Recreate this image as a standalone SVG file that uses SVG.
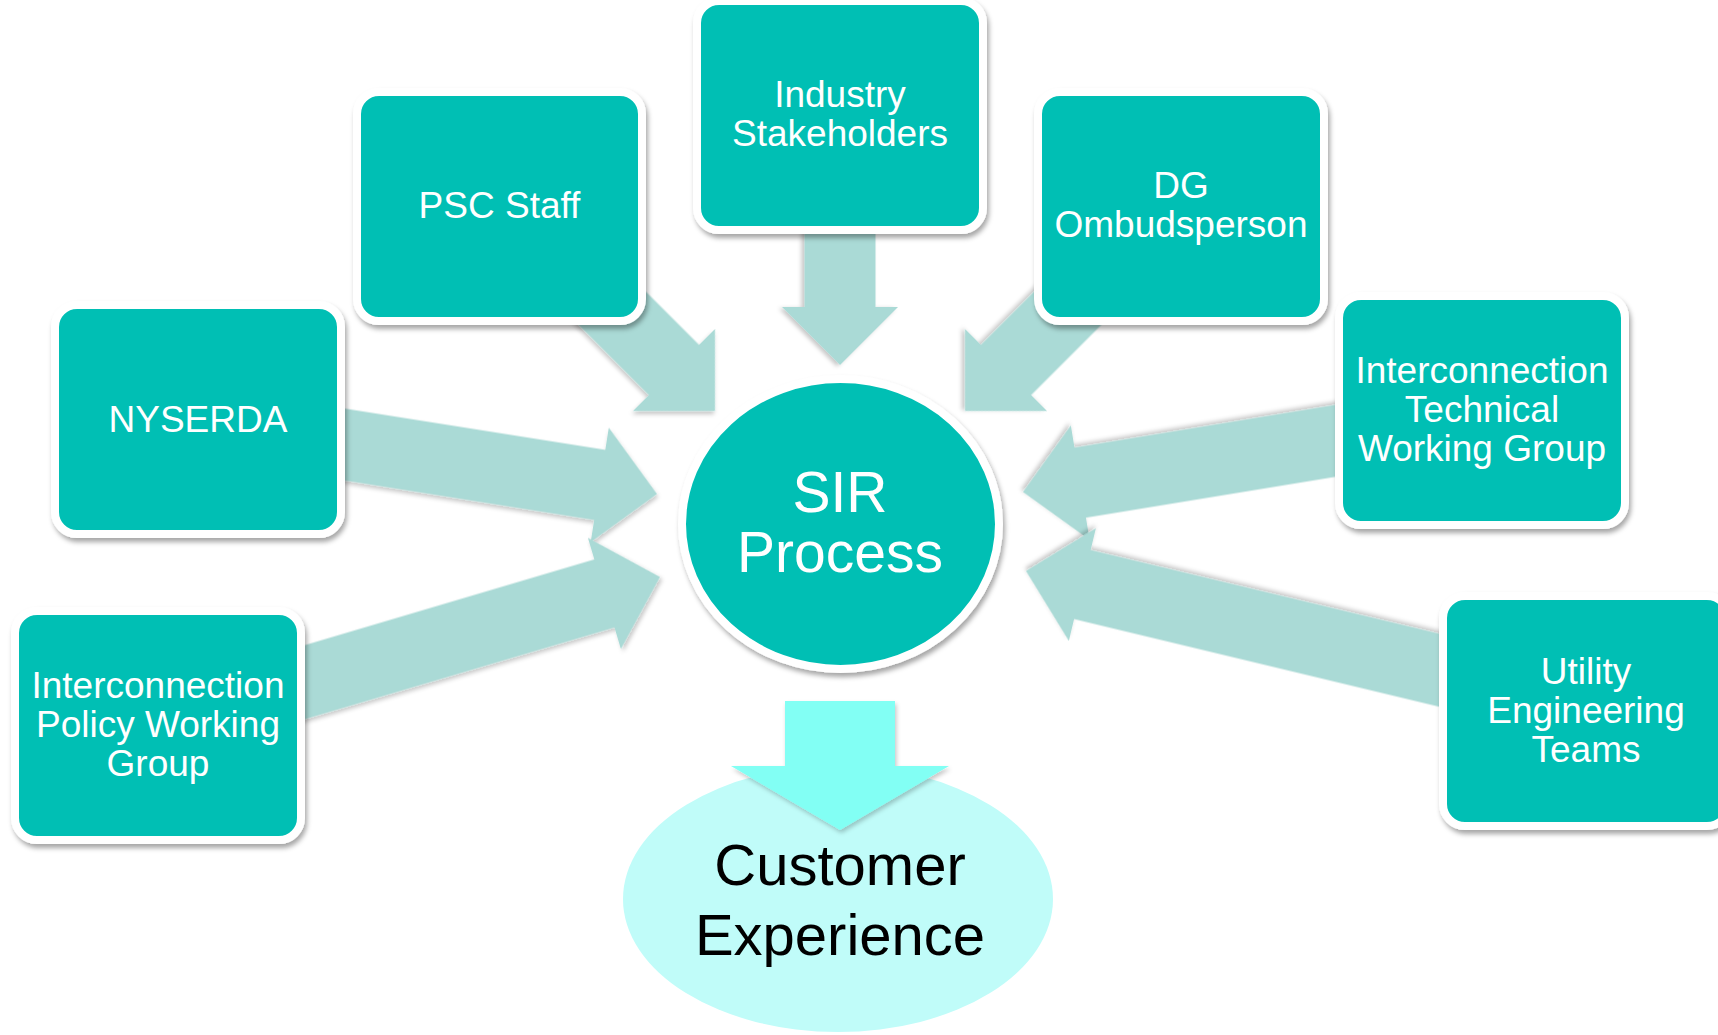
<svg xmlns="http://www.w3.org/2000/svg" width="1718" height="1035" viewBox="0 0 1718 1035">
  <defs>
    <filter id="shadow" x="-20%" y="-20%" width="140%" height="140%">
      <feDropShadow dx="2" dy="4" stdDeviation="2.5" flood-color="#000" flood-opacity="0.35"/>
    </filter>
    <filter id="softShadow" x="-20%" y="-20%" width="140%" height="140%">
      <feDropShadow dx="1.5" dy="3" stdDeviation="2" flood-color="#000" flood-opacity="0.22"/>
    </filter>
  </defs>
  <style>
    .box { fill: #00BFB4; stroke: #FFFFFF; stroke-width: 8; filter: url(#shadow); }
    .hub { fill: #00BFB4; stroke: #FFFFFF; stroke-width: 8; filter: url(#shadow); }
    .feed { fill: #AADAD6; filter: url(#softShadow); }
    .label { font-family: "Liberation Sans", Arial, sans-serif; font-size: 37px; fill: #FFFFFF; text-anchor: middle; }
    .hubLabel { font-family: "Liberation Sans", Arial, sans-serif; font-size: 57px; fill: #FFFFFF; text-anchor: middle; }
    .outLabel { font-family: "Liberation Sans", Arial, sans-serif; font-size: 58px; fill: #000000; text-anchor: middle; }
  </style>

  <rect width="1718" height="1035" fill="#FFFFFF"/>

  <!-- outcome ellipse -->
  <g id="customer-experience">
    <ellipse cx="838" cy="899" rx="215" ry="133" fill="#C0FCF9"/>
  </g>

  <!-- connectors: block arrows (tip at origin, pointing along +x) converging on the hub, plus the output arrow -->
  <g id="connectors">
    <polygon class="feed" points="0,0 -58,58 -58,35.5 -165,35.5 -165,-35.5 -58,-35.5 -58,-58" transform="translate(840,365) rotate(90)"/>
    <polygon class="feed" points="0,0 -58,58 -58,35.5 -200,35.5 -200,-35.5 -58,-35.5 -58,-58" transform="translate(715,411) rotate(45)"/>
    <polygon class="feed" points="0,0 -58,58 -58,35.5 -200,35.5 -200,-35.5 -58,-35.5 -58,-58" transform="translate(965,411) rotate(135)"/>
    <polygon class="feed" points="0,0 -58,58 -58,35.5 -341,35.5 -341,-35.5 -58,-35.5 -58,-58" transform="translate(657,494) rotate(9)"/>
    <polygon class="feed" points="0,0 -58,58 -58,35.5 -350,35.5 -350,-35.5 -58,-35.5 -58,-58" transform="translate(1023,492) rotate(170.7)"/>
    <polygon class="feed" points="0,0 -58,58 -58,35.5 -396,35.5 -396,-35.5 -58,-35.5 -58,-58" transform="translate(660,577) rotate(-16.5)"/>
    <polygon class="feed" points="0,0 -58,58 -58,35.5 -457,35.5 -457,-35.5 -58,-35.5 -58,-58" transform="translate(1026,571) rotate(193.5)"/>
    <polygon points="785,701 895,701 895,766 949,766 840,830 731,766 785,766" fill="#82FFF4" filter="url(#softShadow)"/>
  </g>

  <!-- outcome label drawn above the output arrow -->
  <g id="customer-experience-label">
    <text class="outLabel" x="840" y="885">Customer</text>
    <text class="outLabel" x="840" y="955">Experience</text>
  </g>

  <!-- hub -->
  <g id="sir-process">
    <ellipse class="hub" cx="840.5" cy="524" rx="158.5" ry="145"/>
    <text class="hubLabel" x="840" y="512">SIR</text>
    <text class="hubLabel" x="840" y="572">Process</text>
  </g>

  <!-- contributor nodes -->
  <g id="industry-stakeholders">
    <rect class="box" x="697" y="1" width="286" height="229" rx="22"/>
    <text class="label" x="840" y="107">Industry</text>
    <text class="label" x="840" y="146">Stakeholders</text>
  </g>

  <g id="psc-staff">
    <rect class="box" x="357" y="92" width="285" height="229" rx="22"/>
    <text class="label" x="499.5" y="218">PSC Staff</text>
  </g>

  <g id="dg-ombudsperson">
    <rect class="box" x="1038" y="92" width="286" height="229" rx="22"/>
    <text class="label" x="1181" y="198">DG</text>
    <text class="label" x="1181" y="237">Ombudsperson</text>
  </g>

  <g id="nyserda">
    <rect class="box" x="55" y="305" width="286" height="229" rx="22"/>
    <text class="label" x="198" y="432">NYSERDA</text>
  </g>

  <g id="interconnection-technical-working-group">
    <rect class="box" x="1339" y="296" width="286" height="229" rx="22"/>
    <text class="label" x="1482" y="383">Interconnection</text>
    <text class="label" x="1482" y="422">Technical</text>
    <text class="label" x="1482" y="461">Working Group</text>
  </g>

  <g id="interconnection-policy-working-group">
    <rect class="box" x="15" y="611" width="286" height="229" rx="22"/>
    <text class="label" x="158" y="698">Interconnection</text>
    <text class="label" x="158" y="737">Policy Working</text>
    <text class="label" x="158" y="776">Group</text>
  </g>

  <g id="utility-engineering-teams">
    <rect class="box" x="1443" y="596" width="286" height="230" rx="22"/>
    <text class="label" x="1586" y="684">Utility</text>
    <text class="label" x="1586" y="723">Engineering</text>
    <text class="label" x="1586" y="762">Teams</text>
  </g>
</svg>
